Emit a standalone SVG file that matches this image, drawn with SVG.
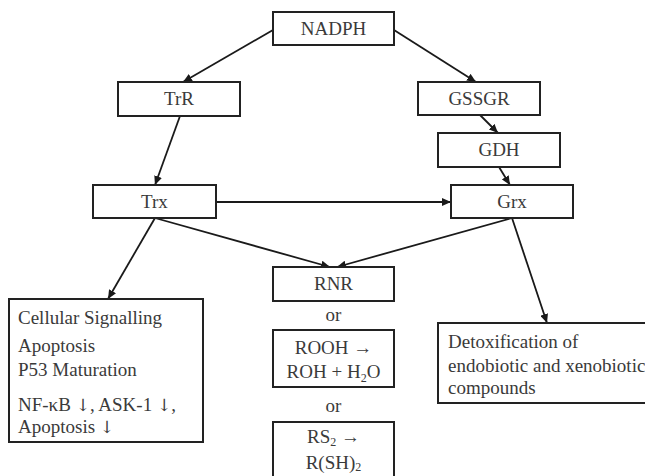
<svg xmlns="http://www.w3.org/2000/svg" width="645" height="476" viewBox="0 0 645 476">
<defs>
<marker id="ah" markerUnits="userSpaceOnUse" markerWidth="10" markerHeight="8" refX="9" refY="4" orient="auto">
<path d="M0,0 L9,4 L0,8 Z" fill="#1a1a1a"/>
</marker>
<style>
.box{fill:#fff;stroke:#222;stroke-width:2}
.t{font-family:"Liberation Serif","Times New Roman",serif;font-size:19px;fill:#3a3a3a}
.c{text-anchor:middle}
.sub{font-size:12px}
.ar{font-family:"DejaVu Serif","Liberation Serif",serif;font-size:17px;fill:#3a3a3a}
.ln{stroke:#1a1a1a;stroke-width:1.8;fill:none;marker-end:url(#ah)}
</style>
</defs>
<rect width="645" height="476" fill="#fff"/>
<g id="connectors">
<line class="ln" x1="273" y1="30" x2="183" y2="82"/>
<line class="ln" x1="394" y1="30" x2="476" y2="82"/>
<line class="ln" x1="180" y1="116" x2="155" y2="185"/>
<line class="ln" x1="480" y1="115" x2="498" y2="133"/>
<line class="ln" x1="499" y1="167" x2="510" y2="185"/>
<line class="ln" x1="216" y1="202" x2="451" y2="202"/>
<line class="ln" x1="155" y1="218" x2="108" y2="299"/>
<line class="ln" x1="155" y1="218" x2="330" y2="267"/>
<line class="ln" x1="512" y1="218" x2="337" y2="267"/>
<line class="ln" x1="512" y1="218" x2="547" y2="323"/>
</g>
<g id="nadph"><rect class="box" x="273" y="12" width="121" height="33"/><text class="t c" x="333.5" y="35">NADPH</text></g>
<g id="trr"><rect class="box" x="118" y="82" width="122" height="34"/><text class="t c" x="179" y="105">TrR</text></g>
<g id="gssgr"><rect class="box" x="418" y="82" width="122" height="33"/><text class="t c" x="479" y="105">GSSGR</text></g>
<g id="gdh"><rect class="box" x="438" y="133" width="122" height="34"/><text class="t c" x="499" y="156">GDH</text></g>
<g id="trx"><rect class="box" x="93" y="185" width="123" height="33"/><text class="t c" x="154.5" y="208">Trx</text></g>
<g id="grx"><rect class="box" x="451" y="185" width="122" height="33"/><text class="t c" x="512" y="208">Grx</text></g>
<g id="rnr"><rect class="box" x="273" y="267" width="121" height="34"/><text class="t c" x="333.5" y="290">RNR</text></g>
<g id="or1"><text class="t c" x="333.5" y="321">or</text></g>
<g id="rooh"><rect class="box" x="273" y="330" width="121" height="57"/>
<text class="t c" x="333.5" y="354">ROOH →</text>
<text class="t c" x="333.5" y="378">ROH + H<tspan class="sub" dy="4">2</tspan><tspan dy="-4">O</tspan></text></g>
<g id="or2"><text class="t c" x="333.5" y="412">or</text></g>
<g id="rs2"><rect class="box" x="273" y="422" width="121" height="60"/>
<text class="t c" x="333.5" y="443">RS<tspan class="sub" dy="3">2</tspan><tspan dy="-3"> →</tspan></text>
<text class="t c" x="333.5" y="469">R(SH)<tspan class="sub" dy="2">2</tspan></text></g>
<g id="cellular"><rect class="box" x="9" y="299" width="194" height="143"/>
<text class="t" x="18" y="324">Cellular Signalling</text>
<text class="t" x="18" y="352">Apoptosis</text>
<text class="t" x="18" y="376">P53 Maturation</text>
<text class="t" x="18" y="411">NF-κB <tspan class="ar">↓︎</tspan>, ASK-1 <tspan class="ar">↓︎</tspan>,</text>
<text class="t" x="18" y="433">Apoptosis <tspan class="ar">↓︎</tspan></text></g>
<g id="detox"><rect class="box" x="438" y="323" width="230" height="80"/>
<text class="t" x="448" y="348">Detoxification of</text>
<text class="t" x="448" y="372">endobiotic and xenobiotic</text>
<text class="t" x="448" y="394">compounds</text></g>
</svg>
